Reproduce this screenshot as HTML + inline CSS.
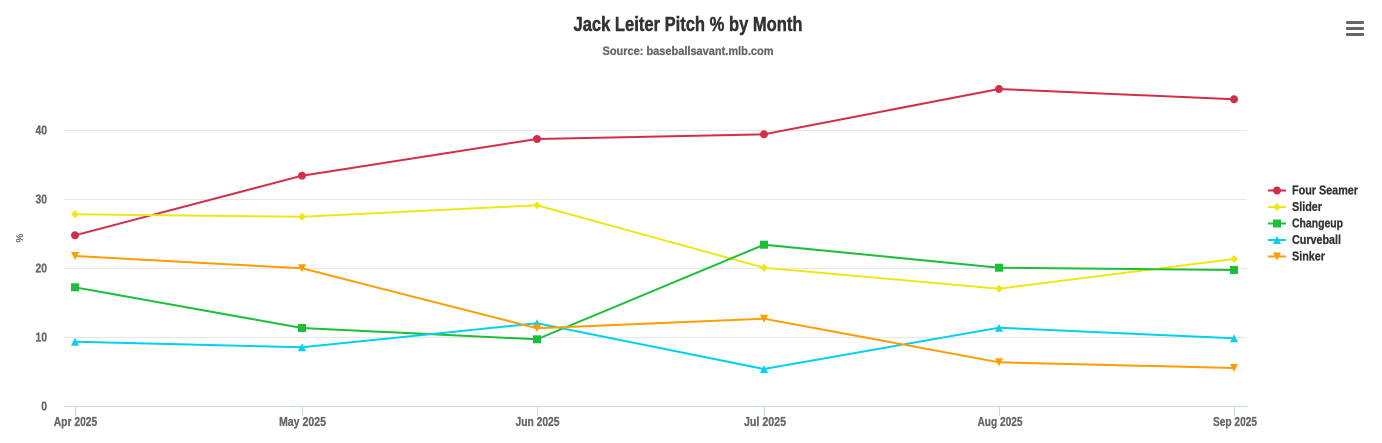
<!DOCTYPE html>
<html><head><meta charset="utf-8"><style>
html,body{margin:0;padding:0;background:#fff;}
svg{display:block;font-family:"Liberation Sans",sans-serif;font-weight:bold;}
</style></head><body>
<svg width="1382" height="443" viewBox="0 0 1382 443" xmlns="http://www.w3.org/2000/svg">
<rect width="1382" height="443" fill="#fff"/>
<text x="688" y="31" text-anchor="middle" font-size="20" fill="#333" stroke="#333" stroke-width="0.5" textLength="229" lengthAdjust="spacingAndGlyphs">Jack Leiter Pitch % by Month</text>
<text x="688" y="55" text-anchor="middle" font-size="12" fill="#666" stroke="#666" stroke-width="0.3" textLength="171" lengthAdjust="spacingAndGlyphs">Source: baseballsavant.mlb.com</text>
<g fill="#666"><rect x="1346" y="21" width="18" height="3" rx="1"/><rect x="1346" y="27" width="18" height="3" rx="1"/><rect x="1346" y="33" width="18" height="3" rx="1"/></g>
<g stroke="#e6e6e6" stroke-width="1"><line x1="64" x2="1247" y1="130.5" y2="130.5"/><line x1="64" x2="1247" y1="199.5" y2="199.5"/><line x1="64" x2="1247" y1="268.5" y2="268.5"/><line x1="64" x2="1247" y1="337.5" y2="337.5"/></g>
<g stroke="#ccd6eb" stroke-width="1"><line x1="64" x2="1247" y1="406.5" y2="406.5"/>
<line x1="75.5" x2="75.5" y1="406" y2="416"/><line x1="302.5" x2="302.5" y1="406" y2="416"/><line x1="537.5" x2="537.5" y1="406" y2="416"/><line x1="764.5" x2="764.5" y1="406" y2="416"/><line x1="999.5" x2="999.5" y1="406" y2="416"/><line x1="1234.5" x2="1234.5" y1="406" y2="416"/></g>
<g font-size="12.5" fill="#666" stroke="#666" stroke-width="0.3" text-anchor="end">
<text x="47" y="134.5" textLength="11.5" lengthAdjust="spacingAndGlyphs">40</text>
<text x="47" y="203.5" textLength="11.5" lengthAdjust="spacingAndGlyphs">30</text>
<text x="47" y="272.5" textLength="11.5" lengthAdjust="spacingAndGlyphs">20</text>
<text x="47" y="341.5" textLength="11.5" lengthAdjust="spacingAndGlyphs">10</text>
<text x="47" y="410.5" textLength="5.8" lengthAdjust="spacingAndGlyphs">0</text>
</g>
<text transform="translate(23,238) rotate(-90)" text-anchor="middle" font-size="10" fill="#666">%</text>
<g font-size="12.5" fill="#666" stroke="#666" stroke-width="0.3" text-anchor="middle">
<text x="75.5" y="426" textLength="43.5" lengthAdjust="spacingAndGlyphs">Apr 2025</text>
<text x="302.5" y="426" textLength="47" lengthAdjust="spacingAndGlyphs">May 2025</text>
<text x="537.5" y="426" textLength="44" lengthAdjust="spacingAndGlyphs">Jun 2025</text>
<text x="765" y="426" textLength="42" lengthAdjust="spacingAndGlyphs">Jul 2025</text>
<text x="1000" y="426" textLength="45" lengthAdjust="spacingAndGlyphs">Aug 2025</text>
<text x="1235" y="426" textLength="44" lengthAdjust="spacingAndGlyphs">Sep 2025</text>
</g>
<!-- Four Seamer -->
<g fill="#d22d49"><polyline fill="none" stroke="#d22d49" stroke-width="2" points="75,235.3 302,175.7 537,139 764,134.3 999,89 1234,99.3"/>
<circle cx="75" cy="235.3" r="4"/><circle cx="302" cy="175.7" r="4"/><circle cx="537" cy="139" r="4"/><circle cx="764" cy="134.3" r="4"/><circle cx="999" cy="89" r="4"/><circle cx="1234" cy="99.3" r="4"/></g>
<!-- Slider -->
<g fill="#eee716"><polyline fill="none" stroke="#eee716" stroke-width="2" points="75,214.3 302,216.7 537,205.3 764,267.7 999,288.7 1234,259"/>
<path d="M75 210.3L79 214.3L75 218.3L71 214.3Z M302 212.7L306 216.7L302 220.7L298 216.7Z M537 201.3L541 205.3L537 209.3L533 205.3Z M764 263.7L768 267.7L764 271.7L760 267.7Z M999 284.7L1003 288.7L999 292.7L995 288.7Z M1234 255L1238 259L1234 263L1230 259Z"/></g>
<!-- Changeup -->
<g fill="#1dbe3a"><polyline fill="none" stroke="#1dbe3a" stroke-width="2" points="75,287.3 302,328 537,339.3 764,244.7 999,267.7 1234,270"/>
<rect x="71" y="283.3" width="8" height="8"/><rect x="298" y="324" width="8" height="8"/><rect x="533" y="335.3" width="8" height="8"/><rect x="760" y="240.7" width="8" height="8"/><rect x="995" y="263.7" width="8" height="8"/><rect x="1230" y="266" width="8" height="8"/></g>
<!-- Curveball -->
<g fill="#00d1ed"><polyline fill="none" stroke="#00d1ed" stroke-width="2" points="75,341.7 302,347.3 537,323.3 764,369 999,327.7 1234,338.3"/>
<path d="M75 337.7L79 345.7L71 345.7Z M302 343.3L306 351.3L298 351.3Z M537 319.3L541 327.3L533 327.3Z M764 365L768 373L760 373Z M999 323.7L1003 331.7L995 331.7Z M1234 334.3L1238 342.3L1230 342.3Z"/></g>
<!-- Sinker -->
<g fill="#fe9d00"><polyline fill="none" stroke="#fe9d00" stroke-width="2" points="75,256 302,268.3 537,328.3 764,318.7 999,362.3 1234,368"/>
<path d="M71 252L79 252L75 260Z M298 264.3L306 264.3L302 272.3Z M533 324.3L541 324.3L537 332.3Z M760 314.7L768 314.7L764 322.7Z M995 358.3L1003 358.3L999 366.3Z M1230 364L1238 364L1234 372Z"/></g>
<!-- Legend -->
<g font-size="12.5" fill="#333">
<line x1="1268" x2="1286" y1="190.5" y2="190.5" stroke="#d22d49" stroke-width="2"/><circle cx="1277" cy="190.5" r="4" fill="#d22d49"/>
<text x="1292" y="194.5" stroke="#333" stroke-width="0.3" textLength="66" lengthAdjust="spacingAndGlyphs">Four Seamer</text>
<line x1="1268" x2="1286" y1="207" y2="207" stroke="#eee716" stroke-width="2"/><path d="M1277 203L1281 207L1277 211L1273 207Z" fill="#eee716"/>
<text x="1292" y="211" stroke="#333" stroke-width="0.3" textLength="30" lengthAdjust="spacingAndGlyphs">Slider</text>
<line x1="1268" x2="1286" y1="223.5" y2="223.5" stroke="#1dbe3a" stroke-width="2"/><rect x="1273" y="219.5" width="8" height="8" fill="#1dbe3a"/>
<text x="1292" y="227.5" stroke="#333" stroke-width="0.3" textLength="51" lengthAdjust="spacingAndGlyphs">Changeup</text>
<line x1="1268" x2="1286" y1="240" y2="240" stroke="#00d1ed" stroke-width="2"/><path d="M1277 236L1281 244L1273 244Z" fill="#00d1ed"/>
<text x="1292" y="244" stroke="#333" stroke-width="0.3" textLength="49" lengthAdjust="spacingAndGlyphs">Curveball</text>
<line x1="1268" x2="1286" y1="256.5" y2="256.5" stroke="#fe9d00" stroke-width="2"/><path d="M1273 252.5L1281 252.5L1277 260.5Z" fill="#fe9d00"/>
<text x="1292" y="260.5" stroke="#333" stroke-width="0.3" textLength="33" lengthAdjust="spacingAndGlyphs">Sinker</text>
</g>
</svg>
</body></html>
